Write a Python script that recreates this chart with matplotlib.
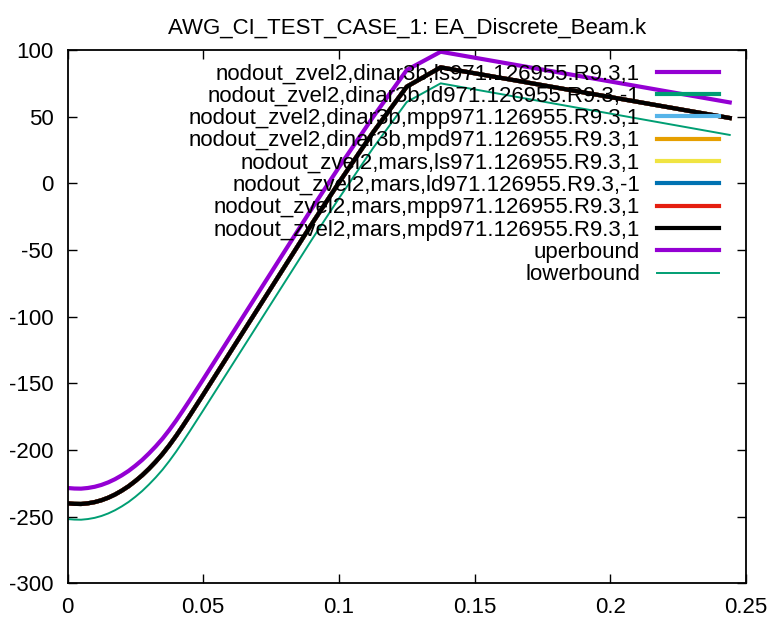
import matplotlib
matplotlib.use("Agg")
from matplotlib import pyplot as plt

plt.rcParams['font.family'] = ['Liberation Sans', 'DejaVu Sans']
plt.rcParams['axes.unicode_minus'] = False

# time values (s)
time = [0.0, 0.0025, 0.005, 0.0075, 0.01, 0.0125, 0.015, 0.0175, 0.02, 0.0225,
        0.025, 0.0275, 0.03, 0.0325, 0.035, 0.0375, 0.04, 0.0425, 0.045, 0.0475,
        0.05, 0.06, 0.07, 0.08, 0.09, 0.1, 0.1125, 0.125, 0.1375, 0.244]

# z-velocity, identical for every solver run (only the last one is visible)
zvel = [-240, -240.4, -240.5, -240, -239.1, -237.7, -235.8, -233.4, -230.5, -227.2,
        -223.3, -219, -214.1, -208.8, -203, -196.5, -189.5, -182, -174.3, -166.4,
        -158.5, -126.5, -94.5, -62.5, -30.5, 0.5, 38, 72.5, 87, 49]

upper = [-228.5, -228.9, -229, -228.5, -227.6, -226.2, -224.3, -221.9, -219, -215.7,
         -211.8, -207.5, -202.6, -197.3, -191.5, -185, -178, -170.5, -162.8, -154.9,
         -147, -115, -83, -51, -19, 12, 49.5, 85, 98.7, 60.7]

lower = [-251.8, -252.2, -252.3, -251.8, -250.9, -249.5, -247.6, -245.2, -242.3, -239,
         -235.1, -230.8, -225.9, -220.6, -214.8, -208.3, -201.3, -193.8, -186.1, -178.2,
         -170.3, -138.3, -106.3, -74.3, -42.3, -11.3, 26.2, 61, 75, 36.3]

runs = [
    'nodout_zvel2,dinar3b,ls971.126955.R9.3,1',
    'nodout_zvel2,dinar3b,ld971.126955.R9.3,-1',
    'nodout_zvel2,dinar3b,mpp971.126955.R9.3,1',
    'nodout_zvel2,dinar3b,mpd971.126955.R9.3,1',
    'nodout_zvel2,mars,ls971.126955.R9.3,1',
    'nodout_zvel2,mars,ld971.126955.R9.3,-1',
    'nodout_zvel2,mars,mpp971.126955.R9.3,1',
    'nodout_zvel2,mars,mpd971.126955.R9.3,1',
]
colors = ['#9400D3', '#009E73', '#56B4E9', '#E69F00',
          '#F0E442', '#0072B2', '#E51E10', '#000000']

xticks = [0, 0.05, 0.1, 0.15, 0.2, 0.25]
xticklabels = ['0', '0.05', '0.1', '0.15', '0.2', '0.25']
yticks = [-300, -250, -200, -150, -100, -50, 0, 50, 100]

fig = plt.figure(figsize=(7.75, 6.22), dpi=100)
ax = fig.add_axes([0.0871, 0.0622, 0.8755, 0.8574])

for name, c in zip(runs, colors):
    ax.plot(time, zvel, c=c, lw=3, label=name)
ax.plot(time, upper, c='#9400D3', lw=3, label='uperbound')
ax.plot(time, lower, c='#009E73', lw=1.4, label='lowerbound')

ax.set_xlim(0, 0.25)
ax.set_ylim(-300, 100)
ax.set_xticks(xticks)
ax.set_xticklabels(xticklabels)
ax.set_yticks(yticks)
ax.tick_params(direction='in', length=6.5, width=1, labelsize=16, pad=10,
               top=True, right=True)
for s in ax.spines.values():
    s.set_linewidth(1.3)

ax.set_title('AWG_CI_TEST_CASE_1: EA_Discrete_Beam.k', fontsize=16, pad=12)

ax.legend(loc='upper right', bbox_to_anchor=(0.9607, 0.975), frameon=False,
          markerfirst=False, fontsize=16, handlelength=2.82, handletextpad=0.75,
          labelspacing=0.06, borderpad=0, borderaxespad=0)

fig.savefig('out.png', dpi=100)
